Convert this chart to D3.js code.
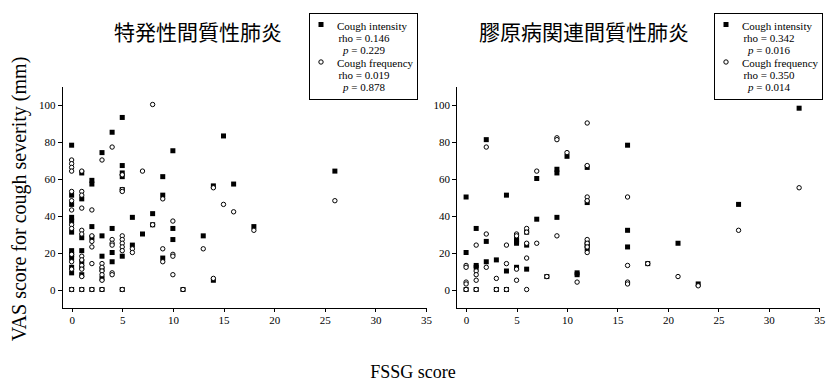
<!DOCTYPE html>
<html>
<head>
<meta charset="utf-8">
<script src="https://cdn.jsdelivr.net/npm/d3@7/dist/d3.min.js"></script>
<style>
  body { margin: 0; background: #fff; }
  svg { display: block; }
  .axis text { font-family: "Liberation Serif", "Times New Roman", serif; font-size: 11px; fill: #000; }
  .axis path, .axis line { stroke: #000; stroke-width: 1; shape-rendering: crispEdges; }
  .legend text { font-family: "Liberation Serif", "Times New Roman", serif; font-size: 11px; fill: #000; }
</style>
</head>
<body>
<svg id="chart" width="827" height="381"></svg>
<script>
// tick labels
const xTicks = [0, 5, 10, 15, 20, 25, 30, 35];
const yTicks = [0, 20, 40, 60, 80, 100];

const titles = ['特発性間質性肺炎', '膠原病関連間質性肺炎'];

// [FSSG score, VAS (mm)]  -- idiopathic IP
const ipfIntensity = [
  [0, 78], [0, 51], [0, 46], [0, 39], [0, 37], [0, 31], [0, 21], [0, 19], [0, 17], [0, 12], [0, 9], [0, 0],
  [1, 63], [1, 49], [1, 28], [1, 21], [1, 15], [1, 12], [1, 8], [1, 0],
  [2, 59], [2, 57], [2, 34], [2, 28], [2, 0],
  [3, 74], [3, 29], [3, 18], [3, 11], [3, 6], [3, 0],
  [4, 85], [4, 33], [4, 20], [4, 15],
  [5, 93], [5, 67], [5, 63], [5, 61], [5, 54], [5, 18], [5, 0],
  [6, 39], [6, 24],
  [7, 30],
  [8, 41], [8, 35],
  [9, 61], [9, 51], [9, 17],
  [10, 75], [10, 33], [10, 27],
  [11, 0], [13, 29], [14, 56], [14, 5], [15, 83], [16, 57], [18, 34], [26, 64]
];
const ipfFrequency = [
  [0, 70], [0, 68], [0, 66], [0, 64], [0, 53], [0, 48], [0, 43], [0, 35], [0, 33], [0, 19], [0, 15], [0, 11], [0, 0],
  [1, 64], [1, 53], [1, 51], [1, 44], [1, 32], [1, 30], [1, 18], [1, 16], [1, 13], [1, 11], [1, 7], [1, 0],
  [2, 43], [2, 29], [2, 26], [2, 23], [2, 14], [2, 0],
  [3, 70], [3, 14], [3, 12], [3, 10], [3, 8], [3, 5], [3, 0],
  [4, 77], [4, 27], [4, 25], [4, 24], [4, 9], [4, 8],
  [5, 62], [5, 54], [5, 53], [5, 29], [5, 27], [5, 25], [5, 23], [5, 21], [5, 0],
  [6, 22], [6, 20],
  [7, 64],
  [8, 100], [8, 35],
  [9, 49], [9, 22], [9, 15],
  [10, 37], [10, 19], [10, 18], [10, 8],
  [11, 0], [13, 22], [14, 55], [14, 6], [15, 46], [16, 42], [18, 32], [26, 48]
];

// collagen vascular disease associated IP
const ctdIntensity = [
  [0, 50], [0, 20], [0, 0],
  [1, 33], [1, 13], [1, 12], [1, 0],
  [2, 81], [2, 26], [2, 15],
  [3, 16], [3, 0],
  [4, 51], [4, 10], [4, 0],
  [5, 27], [5, 26], [5, 25], [5, 12],
  [6, 31], [6, 24], [6, 11],
  [7, 60], [7, 38],
  [8, 7],
  [9, 65], [9, 63], [9, 39],
  [10, 72],
  [11, 9], [11, 8],
  [12, 66], [12, 47], [12, 25], [12, 24], [12, 22],
  [16, 78], [16, 32], [16, 23],
  [18, 14], [21, 25], [23, 3], [27, 46], [33, 98]
];
const ctdFrequency = [
  [0, 13], [0, 12], [0, 4], [0, 3], [0, 0],
  [1, 24], [1, 10], [1, 8], [1, 5], [1, 0],
  [2, 77], [2, 30], [2, 12],
  [3, 6], [3, 0],
  [4, 24], [4, 14], [4, 0],
  [5, 30], [5, 29], [5, 11], [5, 5],
  [6, 33], [6, 31], [6, 25], [6, 17], [6, 0],
  [7, 64], [7, 25],
  [8, 7],
  [9, 82], [9, 81], [9, 29],
  [10, 74],
  [11, 4],
  [12, 90], [12, 67], [12, 50], [12, 48], [12, 27], [12, 25], [12, 23], [12, 20],
  [16, 50], [16, 13], [16, 4], [16, 3],
  [18, 14], [21, 7], [23, 2], [27, 32], [33, 55]
];

const ipfStats = ['rho = 0.146', '0.229', 'rho = 0.019', '0.878'];
const ctdStats = ['rho = 0.342', '0.016', 'rho = 0.350', '0.014'];

const svg = d3.select('#chart');

const panels = [
  { title: titles[0], left: 61.5, right: 426, titleX: 198, legendX: 309,
    intensity: ipfIntensity, frequency: ipfFrequency, stats: ipfStats },
  { title: titles[1], left: 456, right: 819.3, titleX: 584, legendX: 714,
    intensity: ctdIntensity, frequency: ctdFrequency, stats: ctdStats }
];

const yScale = d3.scaleLinear().domain([-10, 110]).range([308, 86]);

panels.forEach(p => drawPanel(p));

function drawPanel(p) {
  const xScale = d3.scaleLinear().domain([-1, 35]).range([p.left, p.right]);
  const g = svg.append('g');

  g.append('g')
    .attr('class', 'axis')
    .attr('transform', `translate(0, ${yScale(-10)})`)
    .call(d3.axisBottom(xScale).tickValues(xTicks).tickSize(4).tickSizeOuter(0).tickPadding(4));

  g.append('g')
    .attr('class', 'axis')
    .attr('transform', `translate(${xScale(-1)}, 0)`)
    .call(d3.axisLeft(yScale).tickValues(yTicks).tickSize(4).tickSizeOuter(0).tickPadding(2));

  // squares first, open circles on top
  g.selectAll('.sq')
    .data(p.intensity)
    .enter().append('rect')
    .attr('class', 'sq')
    .attr('x', d => xScale(d[0]) - 2.5)
    .attr('y', d => yScale(d[1]) - 2.5)
    .attr('width', 5)
    .attr('height', 5)
    .attr('fill', '#000');

  g.selectAll('.ci')
    .data(p.frequency)
    .enter().append('circle')
    .attr('class', 'ci')
    .attr('cx', d => xScale(d[0]))
    .attr('cy', d => yScale(d[1]))
    .attr('r', 2.2)
    .attr('fill', '#fff')
    .attr('stroke', '#000')
    .attr('stroke-width', 1);

  svg.append('text')
    .attr('x', p.titleX)
    .attr('y', 40)
    .attr('text-anchor', 'middle')
    .style('font-family', '"Noto Sans CJK JP", sans-serif')
    .style('font-size', '21px')
    .text(p.title);

  drawLegend(p);
}

function drawLegend(p) {
  const lx = p.legendX;
  const lg = svg.append('g').attr('class', 'legend');
  const rows = [29.5, 42, 54.3, 66.7, 79, 91.4];

  lg.append('rect')
    .attr('x', lx + 0.5).attr('y', 13.5)
    .attr('width', 108).attr('height', 86)
    .attr('fill', '#fff').attr('stroke', '#000').attr('stroke-width', 1);

  lg.append('rect')
    .attr('x', lx + 12 - 2.5).attr('y', 24.5 - 2.5)
    .attr('width', 5).attr('height', 5).attr('fill', '#000');
  lg.append('circle')
    .attr('cx', lx + 12).attr('cy', 62)
    .attr('r', 2.2).attr('fill', '#fff').attr('stroke', '#000');

  lg.append('text').attr('x', lx + 28).attr('y', rows[0]).text('Cough intensity');
  lg.append('text').attr('x', lx + 55).attr('y', rows[1]).attr('text-anchor', 'middle').text(p.stats[0]);
  const t1 = lg.append('text').attr('x', lx + 55).attr('y', rows[2]).attr('text-anchor', 'middle');
  t1.append('tspan').style('font-style', 'italic').text('p');
  t1.append('tspan').text(' = ' + p.stats[1]);

  lg.append('text').attr('x', lx + 28).attr('y', rows[3]).text('Cough frequency');
  lg.append('text').attr('x', lx + 55).attr('y', rows[4]).attr('text-anchor', 'middle').text(p.stats[2]);
  const t2 = lg.append('text').attr('x', lx + 55).attr('y', rows[5]).attr('text-anchor', 'middle');
  t2.append('tspan').style('font-style', 'italic').text('p');
  t2.append('tspan').text(' = ' + p.stats[3]);
}

// axis titles
svg.append('text')
  .attr('transform', 'translate(26, 199) rotate(-90)')
  .attr('text-anchor', 'middle')
  .style('font-family', '"Liberation Serif", "Times New Roman", serif')
  .style('font-size', '20px')
  .text('VAS score for cough severity (mm)');

svg.append('text')
  .attr('x', 413)
  .attr('y', 378)
  .attr('text-anchor', 'middle')
  .style('font-family', '"Liberation Serif", "Times New Roman", serif')
  .style('font-size', '18px')
  .text('FSSG score');
</script>
</body>
</html>
